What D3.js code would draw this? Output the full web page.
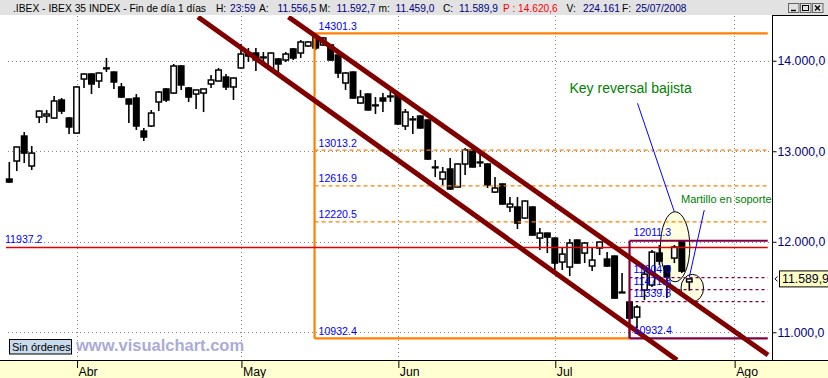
<!DOCTYPE html>
<html>
<head>
<meta charset="utf-8">
<script src="https://cdn.jsdelivr.net/npm/d3@7"></script>
<style>
  body { margin: 0; background: #fff; overflow: hidden; }
  svg { display: block; font-family: "Liberation Sans", Arial, sans-serif; }
</style>
</head>
<body>
<div id="chart"></div>
<script>
// Daily candles, .IBEX, mid March -> 25 Jul 2008 (index 0..91)
const opens = [12693, 12892, 13168, 12837, 13378, 13389, 13367, 13566, 13367, 13201,
  13798, 13853, 13776, 13920, 13875, 13710, 13577, 13588, 13223, 13279,
  13544, 13688, 13643, 13942, 13699, 13632, 13643, 13743, 13776, 13820,
  13710, 13920, 14085, 14085, 14041, 13909, 14019, 14008, 14130, 14085,
  14163, 14262, 14174, 14174, 14063, 13754, 13875, 13533, 13632, 13511,
  13588, 13610, 13621, 13279, 13356, 13389, 13345, 12826, 12693, 12804,
  12605, 12859, 13014, 12881, 12859, 12549, 12638, 12384, 12384, 12262,
  12384, 12041, 12096, 12041, 11776, 11721, 12019, 11875, 11732, 11931,
  11809, 11842, 11444, 11334, 11168, 11467, 11522, 11875, 11732, 11820,
  12008, 11556.5];
const highs = [12881, 13050, 13212, 13058, 13450, 13456, 13610, 13588, 13378, 13720,
  13860, 13864, 13870, 14030, 13880, 13754, 13580, 13632, 13257, 13456,
  13665, 13699, 13964, 13953, 13710, 13680, 13690, 13842, 13920, 13853,
  13815, 14185, 14141, 14141, 14096, 14090, 14030, 14096, 14141, 14229,
  14215, 14301.3, 14260, 14185, 14070, 13875, 13880, 13677, 13640, 13599,
  13643, 13665, 13632, 13467, 13389, 13395, 13350, 12903, 12826, 12925,
  12865, 13036, 13036, 12991, 12865, 12715, 12645, 12494, 12494, 12455,
  12390, 12152, 12100, 12046, 11942, 12030, 12025, 11997, 11942, 12003,
  11886, 11850, 11654, 11340, 11301, 11710, 11909, 11964, 11740, 11964,
  12011.3, 11592.7];
const lows = [12649, 12781, 12870, 12793, 13312, 13312, 13360, 13411, 13190, 13195,
  13699, 13632, 13699, 13875, 13688, 13588, 13312, 13235, 13113, 13268,
  13444, 13544, 13632, 13677, 13544, 13467, 13433, 13699, 13770, 13677,
  13566, 13915, 13986, 13886, 13997, 13875, 13842, 13986, 14008, 14030,
  14152, 14118, 14165, 13997, 13809, 13677, 13580, 13525, 13450, 13411,
  13433, 13544, 13290, 13235, 13190, 13250, 12903, 12715, 12627, 12572,
  12600, 12737, 12820, 12826, 12594, 12538, 12410, 12328, 12141, 12255,
  12068, 11909, 11875, 11654, 11688, 11621, 11760, 11765, 11676, 11853,
  11725, 11370, 11433, 10932.4, 11047, 11356, 11500, 11743, 11378, 11765,
  11654, 11459];
const closes = [12660, 13047, 12980, 12980, 13444, 13411, 13555, 13444, 13268, 13710,
  13853, 13743, 13864, 13915, 13765, 13599, 13522, 13279, 13157, 13422,
  13654, 13566, 13942, 13732, 13599, 13677, 13688, 13787, 13897, 13710,
  13809, 14074, 14052, 14008, 14035, 14085, 13964, 14074, 14030, 14207,
  14207, 14141, 14251, 14008, 13864, 13864, 13588, 13599, 13456, 13505,
  13555, 13605, 13301, 13433, 13350, 13257, 12914, 12820, 12770, 12583,
  12859, 13014, 12826, 12875, 12627, 12594, 12417, 12417, 12207, 12450,
  12074, 12096, 12052, 11765, 11864, 11986, 11765, 11986, 11798, 11997,
  11732, 11378, 11438, 11157, 11279, 11643, 11886, 11787, 11610, 11942,
  11676, 11589.9];

const monthTicks = [9, 31, 52, 73, 97];
const monthLabels = ['Abr', 'May', 'Jun', 'Jul', 'Ago'];
const priceTicks = [11000, 12000, 13000, 14000];

// drawn studies
const orangeFibStart = 40.85;
const orangeFib = [14301.3, 13013.2, 12616.9, 12220.5, 10932.4];
const purpleFibStart = 83;
const purpleFib = [12011.3, 11604.0, 11471.8, 11339.8, 10932.4];
const studyEnd = 101.5;
const resistance = 11937.2;
const lastClose = 11589.9;
const upperChannel = [[37.36, 14483], [101.53, 10749]];
const lowerChannel = [[25.25, 14483], [89.35, 10694]];
const keyArrow = [[84.07, 13530], [89.0, 12332]];
const hammerArrow = [[93.0, 12350], [91.0, 11610]];
const ellipses = [
  { i: 89.1, p: 11945, ri: 1.97, rp: 387 },
  { i: 91.4, p: 11489, ri: 1.51, rp: 151 }
];
const notes = [
  { text: 'Key reversal bajista', i: 74.97, p: 13640, size: 14 },
  { text: 'Martillo en soporte', i: 89.9, p: 12431, size: 11 }
];

// header fields: text, colour, left edge
const header = [
  ['.IBEX - IBEX 35 INDEX - Fin de día 1 días', '#000', 13, 193],
  ['H:', '#000', 216], ['23:59', '#000080', 230],
  ['A:', '#000', 259], ['11.556,5', '#000080', 277.5],
  ['M:', '#000', 319], ['11.592,7', '#000080', 336.5],
  ['m:', '#000', 378.5], ['11.459,0', '#000080', 395.5],
  ['C:', '#000', 443], ['11.589,9', '#000080', 459],
  ['P : 14.620,6', '#ff0000', 503],
  ['V:', '#000', 566.5], ['224.161', '#000080', 583],
  ['F:', '#000', 622], ['25/07/2008', '#000080', 635.5]
];

const W = 828, H = 378;
const plotT = 16, plotB = 360, plotR = 772;

const x = d3.scaleLinear().domain([0, 91]).range([9.3, 689.3]);
const y = d3.scaleLinear().domain([10694, 14483]).range([360, 17]);

const es = d3.formatLocale({ decimal: ',', thousands: '.', grouping: [3], currency: ['', ''] });
const fmtAxis = es.format(',.1f');

const svg = d3.select('#chart').append('svg')
  .attr('width', W).attr('height', H);

svg.append('defs').append('clipPath').attr('id', 'plot')
  .append('rect').attr('x', 0).attr('y', plotT).attr('width', plotR).attr('height', plotB - plotT);

// backgrounds
svg.append('rect').attr('width', W).attr('height', H).attr('fill', '#fff');
svg.append('rect').attr('x', 0).attr('y', 0).attr('width', W).attr('height', plotT - 1).attr('fill', '#e2e2e2');
svg.append('rect').attr('x', 0).attr('y', plotB).attr('width', W).attr('height', H - plotB).attr('fill', '#ffffd2');

// grid
const grid = svg.append('g').attr('stroke', '#888').attr('stroke-dasharray', '1,3').attr('stroke-width', 1);
grid.selectAll('.hg').data(priceTicks).join('line')
  .attr('x1', 8).attr('x2', plotR)
  .attr('y1', d => Math.round(y(d)) + 0.5).attr('y2', d => Math.round(y(d)) + 0.5);
grid.selectAll('.vg').data(monthTicks).join('line')
  .attr('y1', plotT).attr('y2', plotB)
  .attr('x1', d => Math.round(x(d)) + 0.5).attr('x2', d => Math.round(x(d)) + 0.5);

const plot = svg.append('g').attr('clip-path', 'url(#plot)');

// ellipses behind candles
plot.selectAll('ellipse').data(ellipses).join('ellipse')
  .attr('cx', d => x(d.i)).attr('cy', d => y(d.p))
  .attr('rx', d => x(d.i + d.ri) - x(d.i))
  .attr('ry', d => y(d.p - d.rp) - y(d.p))
  .attr('fill', '#ffffe0').attr('stroke', '#000').attr('stroke-width', 1);

// candles
const candles = opens.map((o, i) => ({ i, o, h: highs[i], l: lows[i], c: closes[i] }));
const cg = plot.append('g');
cg.selectAll('.wick').data(candles).join('line')
  .attr('x1', d => x(d.i)).attr('x2', d => x(d.i))
  .attr('y1', d => y(d.h)).attr('y2', d => y(d.l))
  .attr('stroke', '#000').attr('stroke-width', 1.6);
cg.selectAll('.body').data(candles).join('rect')
  .attr('x', d => x(d.i) - 2.75)
  .attr('width', 5.5)
  .attr('y', d => y(Math.max(d.o, d.c)))
  .attr('height', d => Math.max(0.8, Math.abs(y(d.o) - y(d.c))))
  .attr('fill', d => d.c >= d.o ? '#fff' : '#000')
  .attr('stroke', '#000').attr('stroke-width', 1.5);

// orange fibonacci study
const ox0 = x(orangeFibStart), oxEnd = x(studyEnd), ox1 = x(purpleFibStart);
const og = plot.append('g');
og.selectAll('line.lvl').data(orangeFib).join('line')
  .attr('x1', ox0).attr('x2', (d, k) => k === orangeFib.length - 1 ? ox1 : oxEnd)
  .attr('y1', d => y(d)).attr('y2', d => y(d))
  .attr('stroke', '#ff8000')
  .attr('stroke-width', (d, k) => (k === 0 || k === orangeFib.length - 1) ? 2.2 : 1.3)
  .attr('stroke-dasharray', (d, k) => (k === 0 || k === orangeFib.length - 1) ? null : '4,3');
og.append('line')
  .attr('x1', ox0).attr('x2', ox0)
  .attr('y1', y(orangeFib[0])).attr('y2', y(orangeFib[orangeFib.length - 1]))
  .attr('stroke', '#ff8000').attr('stroke-width', 2.2);

// resistance line
plot.append('line')
  .attr('x1', 6).attr('x2', oxEnd)
  .attr('y1', y(resistance)).attr('y2', y(resistance))
  .attr('stroke', '#e00000').attr('stroke-width', 1.4);

// purple fibonacci study
const pg = plot.append('g');
pg.selectAll('line').data(purpleFib).join('line')
  .attr('x1', ox1).attr('x2', oxEnd)
  .attr('y1', d => y(d)).attr('y2', d => y(d))
  .attr('stroke', '#800040')
  .attr('stroke-width', (d, k) => (k === 0 || k === purpleFib.length - 1) ? 2.2 : 1.3)
  .attr('stroke-dasharray', (d, k) => (k === 0 || k === purpleFib.length - 1) ? null : '3,3');
pg.append('line')
  .attr('x1', ox1).attr('x2', ox1)
  .attr('y1', y(purpleFib[0])).attr('y2', y(purpleFib[purpleFib.length - 1]))
  .attr('stroke', '#800040').attr('stroke-width', 2.2);

// channel lines
const line = d3.line().x(d => x(d[0])).y(d => y(d[1]));
plot.selectAll('.chan').data([upperChannel, lowerChannel]).join('path')
  .attr('d', line)
  .attr('fill', 'none').attr('stroke', '#800000').attr('stroke-width', 5);

// pointer lines
plot.selectAll('.ptr').data([keyArrow, hammerArrow]).join('path')
  .attr('d', line)
  .attr('fill', 'none').attr('stroke', '#0000ff').attr('stroke-width', 1);

// level labels
const lbl = svg.append('g').attr('fill', '#0000ff').attr('font-size', 10.6);
lbl.selectAll('.ol').data(orangeFib).join('text')
  .attr('x', ox0 + 4).attr('y', d => y(d) - 3.5).text(d => d.toFixed(1));
lbl.selectAll('.pl').data(purpleFib).join('text')
  .attr('x', ox1 + 4).attr('y', d => y(d) - 4.5).text(d => d.toFixed(1));
lbl.append('text').attr('x', 5).attr('y', y(resistance) - 4.6).text(resistance.toFixed(1));

// notes
svg.selectAll('.note').data(notes).join('text')
  .attr('x', d => x(d.i)).attr('y', d => y(d.p))
  .attr('font-size', d => d.size).attr('fill', '#008000')
  .text(d => d.text);

// watermark and order box
svg.append('text').attr('x', 76).attr('y', 350.5)
  .attr('font-size', 16.5).attr('font-weight', 'bold').attr('fill', '#a9acd6')
  .text('www.visualchart.com');
svg.append('rect').attr('x', 9.5).attr('y', 339.5).attr('width', 62).attr('height', 14.5)
  .attr('fill', '#c8dcee').attr('stroke', '#000');
svg.append('text').attr('x', 12).attr('y', 351).attr('font-size', 11).attr('fill', '#000')
  .text('Sin órdenes');

// frame
svg.append('line').attr('x1', 0).attr('x2', W).attr('y1', plotB + 0.5).attr('y2', plotB + 0.5)
  .attr('stroke', '#000');
svg.append('line').attr('x1', plotR + 0.5).attr('x2', plotR + 0.5).attr('y1', plotT - 1).attr('y2', plotB)
  .attr('stroke', '#000');
svg.append('line').attr('x1', plotR).attr('x2', W).attr('y1', plotT - 0.5).attr('y2', plotT - 0.5)
  .attr('stroke', '#000');

// right axis
const yAxis = d3.axisRight(y).tickValues(priceTicks).tickSize(4).tickFormat(d => fmtAxis(d));
const ya = svg.append('g').attr('transform', `translate(${plotR + 0.5},0)`).call(yAxis);
ya.select('.domain').remove();
ya.selectAll('line').attr('stroke', '#000');
ya.selectAll('text').attr('x', 5).attr('fill', '#000080')
  .attr('font-size', 12.3).attr('font-family', '"Liberation Sans", Arial, sans-serif');

// bottom axis
const xAxis = d3.axisBottom(x).tickValues(monthTicks).tickSize(8).tickFormat((d, k) => monthLabels[k]);
const xa = svg.append('g').attr('transform', `translate(0.5,${plotB})`).call(xAxis);
xa.select('.domain').remove();
xa.selectAll('line').attr('stroke', '#000');
xa.selectAll('text').attr('text-anchor', 'start').attr('x', 1).attr('y', 16).attr('dy', 0)
  .attr('fill', '#000').attr('font-size', 12.3).attr('font-family', '"Liberation Sans", Arial, sans-serif');

// last price flag
const yl = y(lastClose);
svg.append('path').attr('d', `M777.5,${yl - 2.5} L775,${yl} L777.5,${yl + 2.5}`)
  .attr('fill', 'none').attr('stroke', '#000');
svg.append('rect').attr('x', 779.5).attr('y', yl - 8).attr('width', 60).attr('height', 16)
  .attr('fill', '#ffffc0').attr('stroke', '#000');
svg.append('text').attr('x', 782).attr('y', yl + 4.5).attr('font-size', 12.3).attr('fill', '#000030')
  .text(fmtAxis(lastClose));

// header
const hg = svg.append('g').attr('font-size', 10.2);
hg.selectAll('text').data(header).join('text')
  .attr('x', d => d[2]).attr('y', 11.5)
  .attr('fill', d => d[1])
  .each(function (d) {
    if (d[3]) d3.select(this).attr('textLength', d[3]).attr('lengthAdjust', 'spacingAndGlyphs');
  })
  .text(d => d[0]);

// window buttons
const btn = svg.append('g');
[788, 800, 812].forEach(bx => {
  btn.append('rect').attr('x', bx + 0.5).attr('y', 3.5).attr('width', 10.5).attr('height', 9)
    .attr('fill', '#e2e2e2').attr('stroke', '#666');
});
btn.append('line').attr('x1', 791).attr('x2', 796).attr('y1', 10.5).attr('y2', 10.5).attr('stroke', '#000').attr('stroke-width', 1.5);
btn.append('rect').attr('x', 802.5).attr('y', 5.5).attr('width', 6).attr('height', 5).attr('fill', 'none').attr('stroke', '#000');
btn.append('path').attr('d', 'M815,5.5 L820,10.5 M820,5.5 L815,10.5').attr('stroke', '#000').attr('stroke-width', 1.4);
</script>
</body>
</html>
